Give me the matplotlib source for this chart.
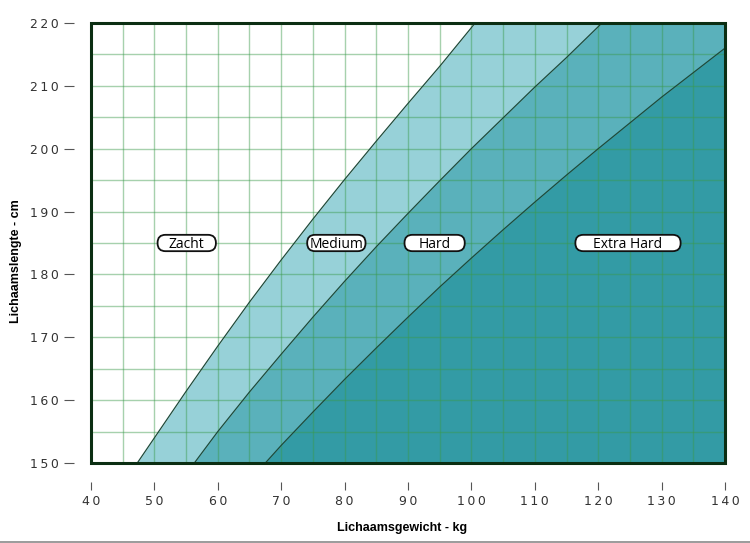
import numpy as np
import matplotlib
matplotlib.use("Agg")
import matplotlib.pyplot as plt
from matplotlib.patches import FancyBboxPatch

# boundary curves (weight kg -> height cm)
w_medium = [47.3, 50, 55, 60, 65, 70, 75, 80, 85, 90, 95, 100.6]
h_medium = [150, 154.0, 161.4, 168.6, 175.6, 182.3, 188.8, 195.1, 201.2, 207.2, 213.1, 220]

w_hard = [56.3, 60, 65, 70, 75, 80, 85, 90, 95, 100, 105, 110, 115, 120.6]
h_hard = [150, 155, 161.3, 167.3, 173.2, 178.9, 184.4, 189.7, 194.9, 200, 204.9, 209.8, 214.5, 220]

w_extra = [67.5, 70, 75, 80, 85, 90, 95, 100, 105, 110, 115, 120, 125, 130, 135, 140]
h_extra = [150, 152.8, 158.1, 163.3, 168.3, 173.2, 178.0, 182.6, 187.1, 191.5, 195.8, 200, 204.1, 208.2, 212.1, 216.0]

zone_names = ["Zacht", "Medium", "Hard", "Extra Hard"]
zone_x = [55.1, 78.7, 94.2, 124.7]
zone_y = [185, 185, 185, 185]
box_w = [9.2, 9.2, 9.5, 16.6]   # pill widths (kg units)
box_h = 2.6

x_ticks = list(range(40, 141, 10))
y_ticks = list(range(150, 221, 10))

fig = plt.figure(figsize=(7.5, 5.43), dpi=100)
ax = fig.add_axes([91/750, 1 - 463/543, 634/750, 440/543])
ax.set_xlim(40, 140)
ax.set_ylim(150, 220)

ax.fill_betweenx(h_medium, w_medium, 140, color="#97d1d8", lw=0, zorder=1)
ax.fill_betweenx(h_hard, w_hard, 140, color="#5ab1bb", lw=0, zorder=1.1)
ax.fill_betweenx(h_extra, w_extra, 140, color="#339ba5", lw=0, zorder=1.2)

for w, h in [(w_medium, h_medium), (w_hard, h_hard), (w_extra, h_extra)]:
    ax.plot(w, h, color="#1d4a3a", lw=0.9, zorder=3)

# grid every 5
for gx in np.arange(45, 140, 5):
    ax.axvline(gx, color="#3a9a4a", alpha=0.45, lw=1.0, zorder=2)
for gy in np.arange(155, 220, 5):
    ax.axhline(gy, color="#3a9a4a", alpha=0.45, lw=1.0, zorder=2)

# frame
frame = plt.Rectangle((0, 0), 1, 1, transform=ax.transAxes, fill=False,
                      ec="#0b2e12", lw=2.2, zorder=5, clip_on=False)
ax.add_patch(frame)
for s in ax.spines.values():
    s.set_visible(False)
ax.spines["bottom"].set_position(("outward", 14))
ax.spines["left"].set_position(("outward", 12))

sp = "\u2009"
ax.set_xticks(x_ticks)
ax.set_xticklabels([sp.join(str(v)) for v in x_ticks])
ax.set_yticks(y_ticks)
ax.set_yticklabels([sp.join(str(v)) for v in y_ticks])
ax.tick_params(axis="x", direction="out", length=6, width=0.8, color="#555555",
               pad=3, labelsize=9, labelcolor="#333333")
ax.tick_params(axis="y", direction="out", length=7, width=0.8, color="#555555",
               pad=4, labelsize=9, labelcolor="#333333")

for name, x, y, bw in zip(zone_names, zone_x, zone_y, box_w):
    pill = FancyBboxPatch((x - bw / 2, y - box_h / 2), bw, box_h,
                          boxstyle="round,pad=0,rounding_size=1.25",
                          fc="white", ec="#111111", lw=1.3, zorder=6)
    ax.add_patch(pill)
    ax.text(x, y, name, ha="center", va="center_baseline", fontsize=10,
            family="Open Sans", color="black", zorder=7)

fig.text(402/750, 1 - 528/543, "Lichaamsgewicht - kg", ha="center", va="center",
         fontsize=9, fontweight="bold", family="Liberation Sans")
fig.text(16/750, 1 - 261/543, "Lichaamslengte - cm", ha="center", va="center",
         rotation=90, fontsize=9, fontweight="bold", family="Liberation Sans")

fig.add_artist(plt.Line2D([0, 1], [1.5/543, 1.5/543], color="#8a8a8a", lw=1.2,
                          transform=fig.transFigure))

fig.savefig("out.png", dpi=100)
